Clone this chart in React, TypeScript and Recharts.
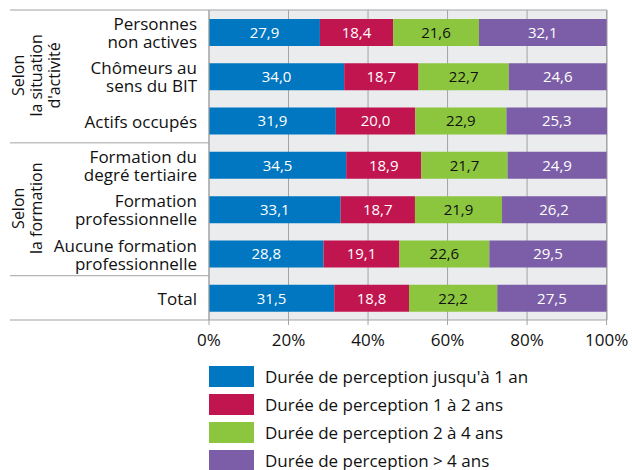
import React from 'react'
import { BarChart, Bar, XAxis, YAxis, CartesianGrid, LabelList, Legend } from 'recharts'

const categories = [
  'Personnes\nnon actives',
  'Chômeurs au\nsens du BIT',
  'Actifs occupés',
  'Formation du\ndegré tertiaire',
  'Formation\nprofessionnelle',
  'Aucune formation\nprofessionnelle',
  'Total',
]
const jusqua1 = [27.9, 34.0, 31.9, 34.5, 33.1, 28.8, 31.5]
const de1a2 = [18.4, 18.7, 20.0, 18.9, 18.7, 19.1, 18.8]
const de2a4 = [21.6, 22.7, 22.9, 21.7, 21.9, 22.6, 22.2]
const plus4 = [32.1, 24.6, 25.3, 24.9, 26.2, 29.5, 27.5]
const xTicks = [0, 20, 40, 60, 80, 100]

const groups = [
  { at: 1, lines: ['Selon', 'la situation', "d'activité"], dy: -1 },
  { at: 4, lines: ['Selon', 'la formation'], dy: -1 },
]

const series = [
  { key: 'a', name: "Durée de perception jusqu'à 1 an", color: '#0077c0', text: '#fff' },
  { key: 'b', name: 'Durée de perception 1 à 2 ans', color: '#c0154f', text: '#fff' },
  { key: 'c', name: 'Durée de perception 2 à 4 ans', color: '#8cc63f', text: '#111' },
  { key: 'd', name: 'Durée de perception > 4 ans', color: '#7b5ea7', text: '#fff' },
]

const data = categories.map((cat, i) => ({
  cat,
  a: jusqua1[i],
  b: de1a2[i],
  c: de2a4[i],
  d: plus4[i],
}))

const FONT = '"Open Sans", sans-serif'
const LINE = '#a3a3a3'
const PLOT_LEFT = 209
const PLOT_RIGHT = 607
const PLOT_TOP = 10
const PLOT_BOTTOM = 320
const BAND = (PLOT_BOTTOM - PLOT_TOP) / categories.length

function CategoryTick(props: any) {
  const { y, payload, index } = props
  const lines = String(payload.value).split('\n')
  const lh = 18
  const start = y - ((lines.length - 1) * lh) / 2
  const group = groups.find((g) => g.at === index)
  const gp = 18
  return (
    <g>
      <text x={197} y={start} textAnchor="end" fontSize={17} fontFamily={FONT} fill="#111" dominantBaseline="central">
        {lines.map((l, k) => (
          <tspan key={k} x={197} dy={k === 0 ? 0 : lh}>
            {l}
          </tspan>
        ))}
      </text>
      {index === 0 && <line x1={10} x2={PLOT_RIGHT} y1={y - BAND / 2} y2={y - BAND / 2} stroke={LINE} />}
      {(index === 2 || index === 5 || index === 6) && (
        <line x1={10} x2={PLOT_LEFT} y1={y + BAND / 2} y2={y + BAND / 2} stroke={LINE} />
      )}
      {group && (
        <text
          transform={`translate(${19 + ((group.lines.length - 1) * gp) / 2}, ${y + group.dy}) rotate(-90)`}
          textAnchor="middle"
          fontSize={16}
          fontFamily={FONT}
          fill="#111"
        >
          {group.lines.map((l, k) => (
            <tspan key={k} x={0} y={(k - (group.lines.length - 1) / 2) * gp + 5}>
              {l}
            </tspan>
          ))}
        </text>
      )}
    </g>
  )
}

function LegendBox() {
  return (
    <div style={{ fontFamily: FONT, fontSize: 17, color: '#111' }}>
      {series.map((s) => (
        <div key={s.key} style={{ display: 'flex', alignItems: 'center', height: 28 }}>
          <div style={{ width: 45, height: 21, background: s.color, marginRight: 11 }} />
          <span>{s.name}</span>
        </div>
      ))}
    </div>
  )
}

export default function App() {
  return (
    <div style={{ position: 'absolute', left: 0, top: 0, background: '#fff' }}>
      <BarChart
        width={632}
        height={470}
        data={data}
        layout="vertical"
        margin={{ top: PLOT_TOP, right: 632 - PLOT_RIGHT, left: 0, bottom: 120 }}
        barSize={27}
      >
        <CartesianGrid horizontal={false} stroke={LINE} fill="#ebecee" />
        <XAxis
          type="number"
          domain={[0, 100]}
          ticks={xTicks}
          tickFormatter={(v) => `${v}%`}
          stroke={LINE}
          tickSize={5}
          tickMargin={9}
          height={30}
          tick={{ fontSize: 17, fontFamily: FONT, fill: '#111' }}
        />
        <YAxis
          type="category"
          dataKey="cat"
          width={PLOT_LEFT}
          stroke={LINE}
          tickLine={false}
          tick={<CategoryTick />}
          interval={0}
        />
        {series.map((s) => (
          <Bar key={s.key} dataKey={s.key} name={s.name} stackId="s" fill={s.color} isAnimationActive={false}>
            <LabelList
              dataKey={s.key}
              position="center"
              fill={s.text}
              fontSize={15}
              fontFamily={FONT}
              formatter={(v: any) => Number(v).toFixed(1).replace('.', ',')}
            />
          </Bar>
        ))}
        <Legend
          layout="vertical"
          align="center"
          verticalAlign="middle"
          content={<LegendBox />}
          wrapperStyle={{ top: 362, left: PLOT_LEFT, width: 420 }}
        />
      </BarChart>
    </div>
  )
}
